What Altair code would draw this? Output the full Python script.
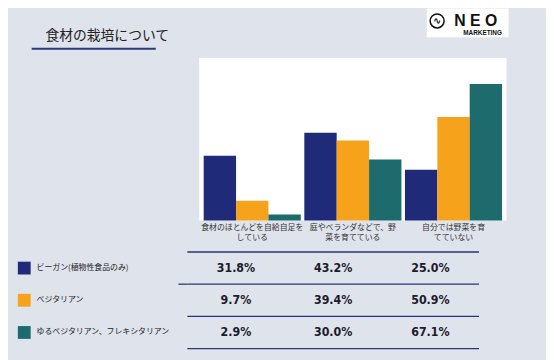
import altair as alt
import pandas as pd

# ---- data ----
categories = [
    "食材のほとんどを自給自足を\nしている",
    "庭やベランダなどで、野\n菜を育てている",
    "自分では野菜を育\nてていない",
]
series = ["ビーガン(植物性食品のみ)", "ベジタリアン", "ゆるベジタリアン、フレキシタリアン"]
vegan = [31.8, 43.2, 25.0]
vegetarian = [9.7, 39.4, 50.9]
flexi = [2.9, 30.0, 67.1]
colors = ["#1f2a78", "#f7a21b", "#1d6b6d"]

title_text = "食材の栽培について"

rows = []
for s, vals in zip(series, [vegan, vegetarian, flexi]):
    for c, v in zip(categories, vals):
        rows.append({"category": c, "series": s, "value": v})
df = pd.DataFrame(rows)
sdf = pd.DataFrame({"series": series})

JP = "Noto Sans CJK JP"
color_scale = alt.Scale(domain=series, range=colors)

# ---- bars ----
bars = alt.Chart(df).mark_bar().encode(
    x=alt.X("category:N", sort=categories,
            scale=alt.Scale(paddingInner=0.035, paddingOuter=0.045),
            axis=alt.Axis(title=None, labelAngle=0, domain=False, ticks=False,
                          labelExpr="split(datum.label, '\\n')",
                          labelFont=JP, labelFontSize=8, labelLineHeight=10,
                          labelPadding=3, labelColor="#333333",
                          labelOverlap=False, labelBound=False, labelFlush=False)),
    xOffset=alt.XOffset("series:N", sort=series, scale=alt.Scale(paddingInner=0, paddingOuter=0)),
    y=alt.Y("value:Q", scale=alt.Scale(domain=[0, 80]), axis=None),
    color=alt.Color("series:N", scale=color_scale, legend=None),
)

# ---- table ----
row_scale = alt.Scale(domain=series, range=[197, 295], paddingInner=0, paddingOuter=0)
col_scale = alt.Scale(domain=categories, range=[-12, 284], paddingInner=0, paddingOuter=0)

values_text = alt.Chart(df).transform_calculate(
    label="format(datum.value, '.1f') + '%'"
).mark_text(font="DejaVu Sans Condensed, Liberation Sans Narrow, sans-serif",
            fontWeight="bold", fontSize=12.5, color="#1b1b2b", baseline="middle").encode(
    x=alt.X("category:N", sort=categories, scale=col_scale, axis=None),
    y=alt.Y("series:N", sort=series, scale=row_scale, axis=None),
    text="label:N",
)

lines_top = alt.Chart(sdf).mark_rule(color="#2b3570", strokeWidth=1.3).encode(
    y=alt.Y("series:N", sort=series, scale=row_scale, axis=None, bandPosition=0),
    x=alt.value(-12), x2=alt.value(284),
)
line_extra = alt.Chart(sdf).transform_filter(
    alt.datum.series == series[1]
).mark_rule(color="#2b3570", strokeWidth=1.3).encode(
    y=alt.Y("series:N", sort=series, scale=row_scale, axis=None, bandPosition=0),
    x=alt.value(-21), x2=alt.value(-12),
)
line_bottom = alt.Chart(sdf).transform_filter(
    alt.datum.series == series[-1]
).mark_rule(color="#2b3570", strokeWidth=1.3).encode(
    y=alt.Y("series:N", sort=series, scale=row_scale, axis=None, bandPosition=1),
    x=alt.value(-12), x2=alt.value(284),
)

legend_sq = alt.Chart(sdf).mark_square(size=169, opacity=1, filled=True).encode(
    x=alt.value(-177.5),
    y=alt.Y("series:N", sort=series, scale=row_scale, axis=None),
    color=alt.Color("series:N", scale=color_scale, legend=None),
)
legend_txt = alt.Chart(sdf).mark_text(font=JP, fontSize=8, align="left",
                                      baseline="middle", color="#222222").encode(
    x=alt.value(-165),
    y=alt.Y("series:N", sort=series, scale=row_scale, axis=None),
    text="series:N",
)

# ---- title & logo ----
one = alt.Data(values=[{}])
title = alt.Chart(one).mark_text(font=JP, fontSize=14, align="left", baseline="middle",
                                 color="#222222", text=title_text).encode(
    x=alt.value(-156), y=alt.value(-22))
underline = alt.Chart(one).mark_rule(color="#2b3a7a", strokeWidth=2).encode(
    x=alt.value(-170), x2=alt.value(-44), y=alt.value(-9.3))

logo_box = alt.Chart(one).mark_rect(color="white").encode(
    x=alt.value(231), x2=alt.value(314), y=alt.value(-50), y2=alt.value(-21))
logo_circle = alt.Chart(one).mark_point(shape="circle", size=200, filled=False,
                                        color="#111111", strokeWidth=1.5, opacity=1).encode(
    x=alt.value(241.5), y=alt.value(-37.5))
logo_wave = alt.Chart(one).mark_text(font="DejaVu Sans", fontSize=10, fontWeight="bold",
                                     color="#111111", text="∿").encode(
    x=alt.value(241.5), y=alt.value(-37.5))
logo_neo = alt.Chart(one).mark_text(font="Liberation Sans", fontSize=16, fontWeight="bold",
                                    align="left", baseline="middle", color="#111111",
                                    text="N E O").encode(
    x=alt.value(259), y=alt.value(-37.5))
logo_mk = alt.Chart(one).mark_text(font="Liberation Sans", fontSize=6.5, fontWeight="bold",
                                   align="left", baseline="middle", color="#111111",
                                   text="MARKETING").encode(
    x=alt.value(268), y=alt.value(-25))

chart = alt.layer(
    bars, values_text, lines_top, line_extra, line_bottom, legend_sq, legend_txt,
    title, underline, logo_box, logo_circle, logo_wave, logo_neo, logo_mk,
).resolve_scale(
    x="independent", y="independent"
).properties(
    width=312, height=165,
    autosize=alt.AutoSizeParams(type="none"),
    padding={"left": 194, "top": 48, "right": 40, "bottom": 139},
    background="#dfe3ec",
).configure_view(fill="white", stroke=None)

chart.save("out.html", embed_options={"renderer": "svg", "actions": False})
